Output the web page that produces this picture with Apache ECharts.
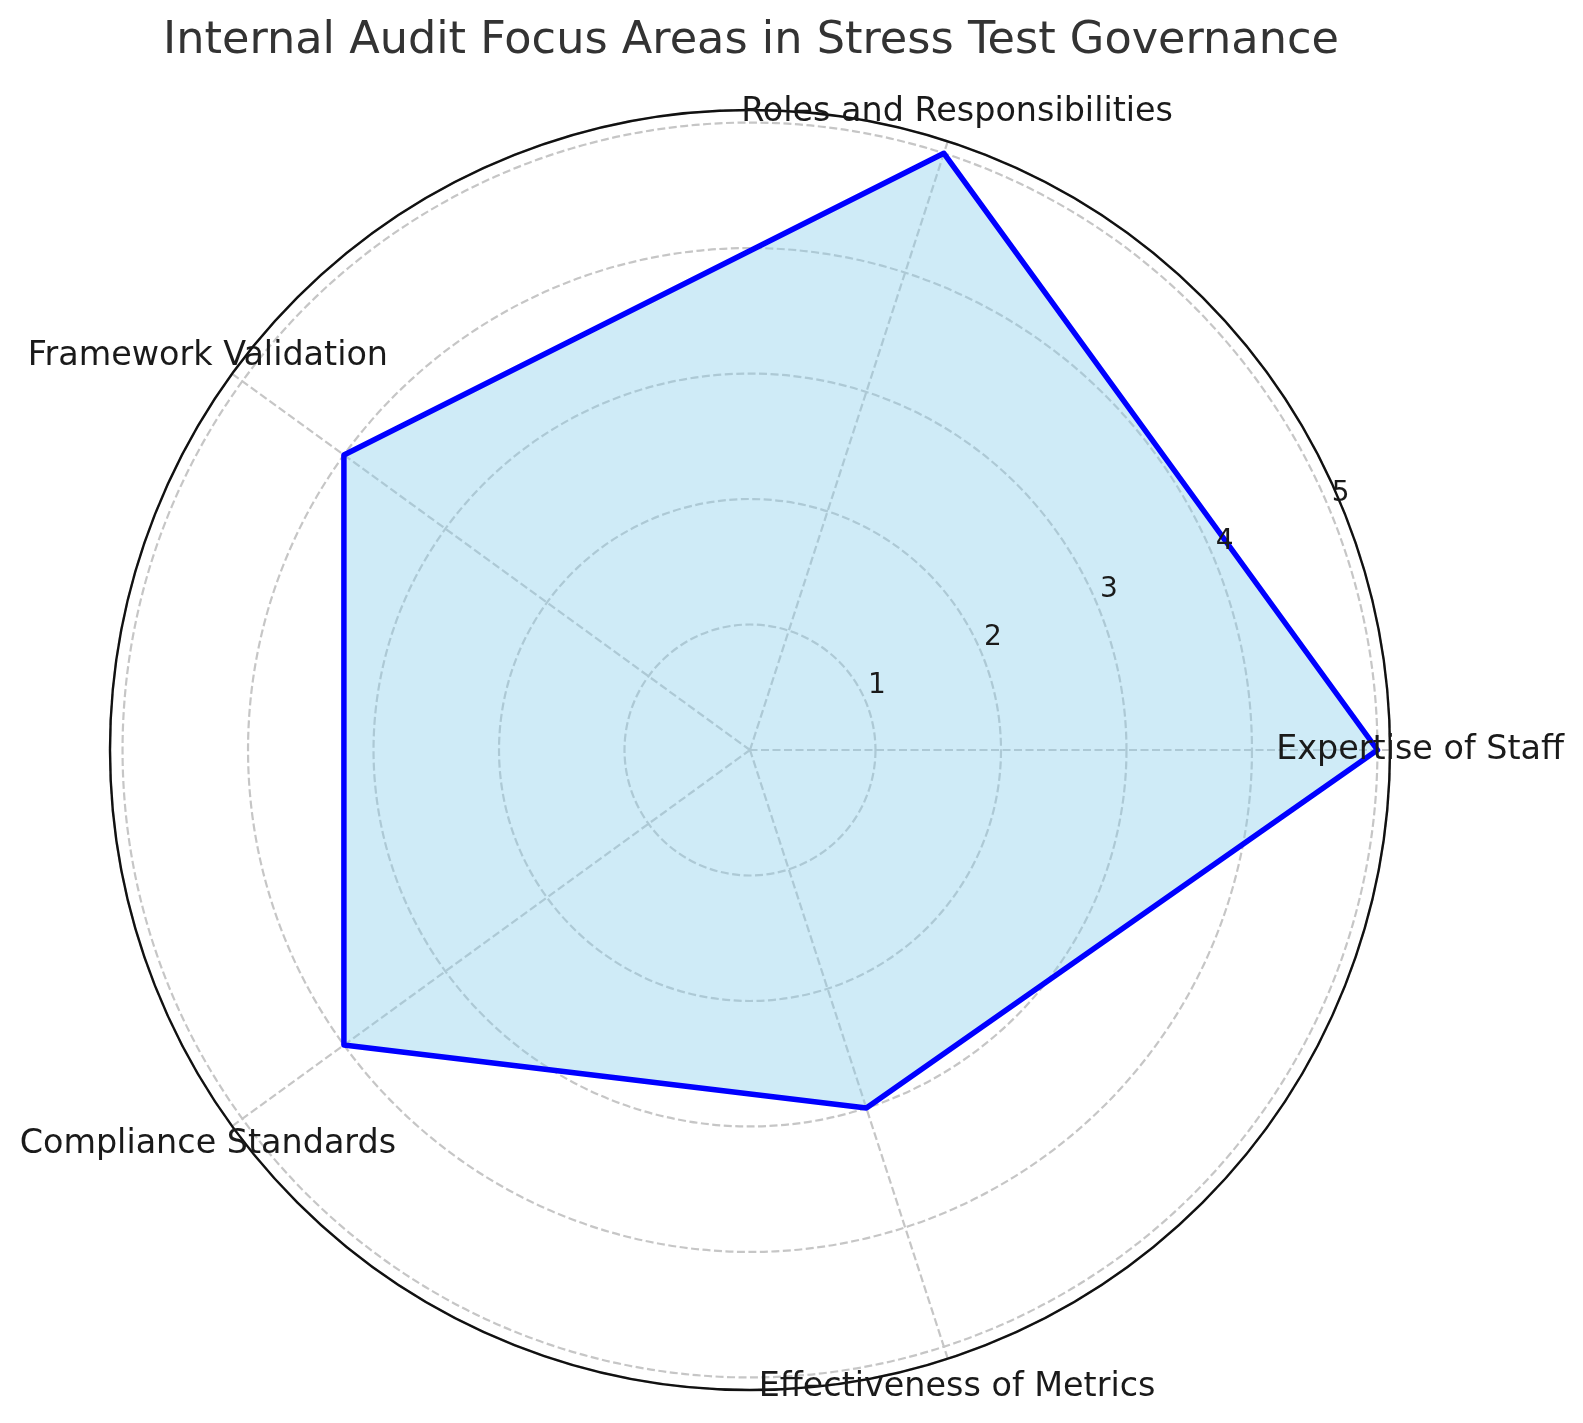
<!DOCTYPE html>
<html>
<head>
<meta charset="utf-8">
<script src="https://cdn.jsdelivr.net/npm/echarts@6/dist/echarts.min.js"></script>
<style>
html,body{margin:0;padding:0;background:#fff;}
#chart{width:1583px;height:1423px;}
</style>
</head>
<body>
<div id="chart"></div>
<script>
const titleText = 'Internal Audit Focus Areas in Stress Test Governance';
const categories = ['Expertise of Staff', 'Roles and Responsibilities', 'Framework Validation', 'Compliance Standards', 'Effectiveness of Metrics'];
const values = [5, 5, 4, 4, 3];
const tickLabels = [1, 2, 3, 4, 5];

const step = 360 / categories.length;
const radiusMax = 5.1;
const labelRadius = 5.34;
const tickAngle = 22.5;

const lineData = values.map((v, i) => [v, i * step]);
lineData.push([values[0], 360]);

const catLabelData = categories.map((c, i) => ({ name: c, value: [labelRadius, i * step] }));
const tickLabelData = tickLabels.map(t => ({ name: String(t), value: [t, tickAngle] }));

const chart = echarts.init(document.getElementById('chart'), null, { renderer: 'canvas' });
const font = '"DejaVu Sans", sans-serif';
const gridStyle = { color: '#c6c6c6', width: 2.2, type: [8, 3.5] };

chart.setOption({
  backgroundColor: '#ffffff',
  animation: false,
  title: {
    text: titleText,
    left: 746,
    textAlign: 'center',
    top: 14,
    textStyle: { fontFamily: font, fontSize: 44.6, fontWeight: 'normal', color: '#333333' }
  },
  polar: { center: [750, 750], radius: 640 },
  angleAxis: {
    type: 'value', min: 0, max: 360, interval: step,
    startAngle: 0, clockwise: false,
    axisLine: { show: true, lineStyle: { color: '#111111', width: 2.4 } },
    axisTick: { show: false },
    axisLabel: { show: false },
    splitLine: { show: true, lineStyle: gridStyle }
  },
  radiusAxis: {
    type: 'value', min: 0, max: radiusMax, interval: 1,
    axisLine: { show: false },
    axisTick: { show: false },
    axisLabel: { show: false },
    splitLine: { show: true, lineStyle: gridStyle }
  },
  series: [
    {
      type: 'line',
      coordinateSystem: 'polar',
      data: lineData,
      symbol: 'none',
      smooth: false,
      lineStyle: { color: '#0000ff', width: 5.5, join: 'round', cap: 'round' },
      areaStyle: { color: '#87CEEB', opacity: 0.4 },
      z: 3
    },
    {
      type: 'scatter',
      coordinateSystem: 'polar',
      data: catLabelData,
      symbolSize: 1,
      clip: false,
      itemStyle: { color: 'rgba(0,0,0,0)', opacity: 1 },
      label: {
        show: true, position: 'inside',
        formatter: p => p.name,
        fontFamily: font, fontSize: 33.4, color: '#1a1a1a', opacity: 1,
        align: 'center', verticalAlign: 'middle'
      },
      silent: true,
      z: 5
    },
    {
      type: 'scatter',
      coordinateSystem: 'polar',
      data: tickLabelData,
      symbolSize: 1,
      clip: false,
      itemStyle: { color: 'rgba(0,0,0,0)', opacity: 1 },
      label: {
        show: true, position: 'inside', offset: [11, -16],
        formatter: p => p.name,
        fontFamily: font, fontSize: 28, color: '#1a1a1a', opacity: 1,
        align: 'center', verticalAlign: 'middle'
      },
      silent: true,
      z: 5
    }
  ]
});
</script>
</body>
</html>
